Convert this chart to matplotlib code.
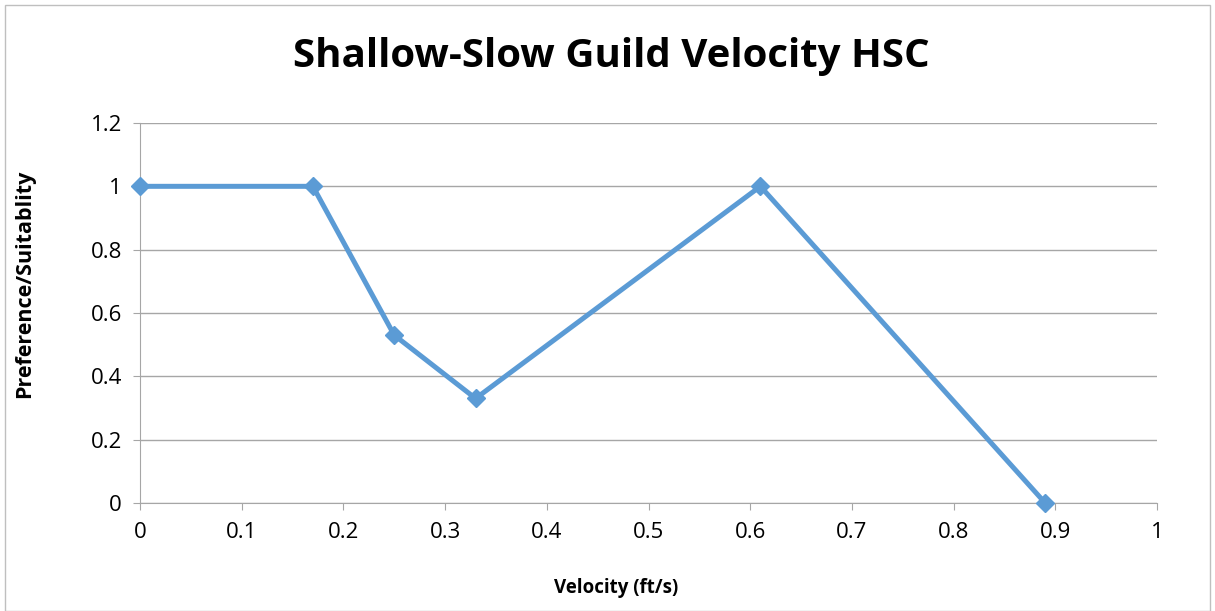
import matplotlib.pyplot as plt
from matplotlib.patches import Rectangle

velocity = [0, 0.17, 0.25, 0.33, 0.61, 0.89]
suitability = [1, 1, 0.53, 0.33, 1, 0]
x_ticks = [0, 0.1, 0.2, 0.3, 0.4, 0.5, 0.6, 0.7, 0.8, 0.9, 1]
y_ticks = [0, 0.2, 0.4, 0.6, 0.8, 1, 1.2]

plt.rcParams['font.family'] = ['Open Sans', 'DejaVu Sans']

fig = plt.figure(figsize=(12.15, 6.11), dpi=100)
ax = fig.add_axes([0.1152, 0.1768, 0.8371, 0.6219])

# outer chart border
fig.patches.append(Rectangle((0.004, 0.0), 0.992, 0.992, transform=fig.transFigure,
                             fill=False, edgecolor='#BFBFBF', linewidth=1))

ax.plot(velocity, suitability, color='#5B9BD5', linewidth=3.6,
        marker='D', markersize=9, clip_on=False, zorder=3)

ax.set_xlim(0, 1)
ax.set_ylim(0, 1.2)
ax.set_xticks(x_ticks)
ax.set_yticks(y_ticks)
ax.set_xticklabels([f'{v:g}' for v in x_ticks])
ax.set_yticklabels([f'{v:g}' for v in y_ticks])
ax.grid(axis='y', color='#A6A6A6', linewidth=1)
ax.set_axisbelow(True)

for s in ['top', 'right']:
    ax.spines[s].set_visible(False)
for s in ['left', 'bottom']:
    ax.spines[s].set_color('#A6A6A6')
ax.tick_params(axis='both', direction='out', color='#A6A6A6', length=5,
               labelsize=16)
ax.tick_params(axis='x', pad=9)
ax.tick_params(axis='y', pad=8)

fig.text(0.503, 0.907, 'Shallow-Slow Guild Velocity HSC', fontsize=29,
         fontweight='bold', ha='center', va='center')

ax.set_xlabel('Velocity (ft/s)', fontsize=13.5, fontweight='bold', va='center', ha='center')
ax.set_ylabel('Preference/Suitablity', fontsize=15.5, fontweight='bold', va='center', ha='center')
ax.xaxis.set_label_coords(0.468, -0.224)
ax.yaxis.set_label_coords(-0.113, 0.576)

fig.savefig('out.png', dpi=100)
plt.close()
